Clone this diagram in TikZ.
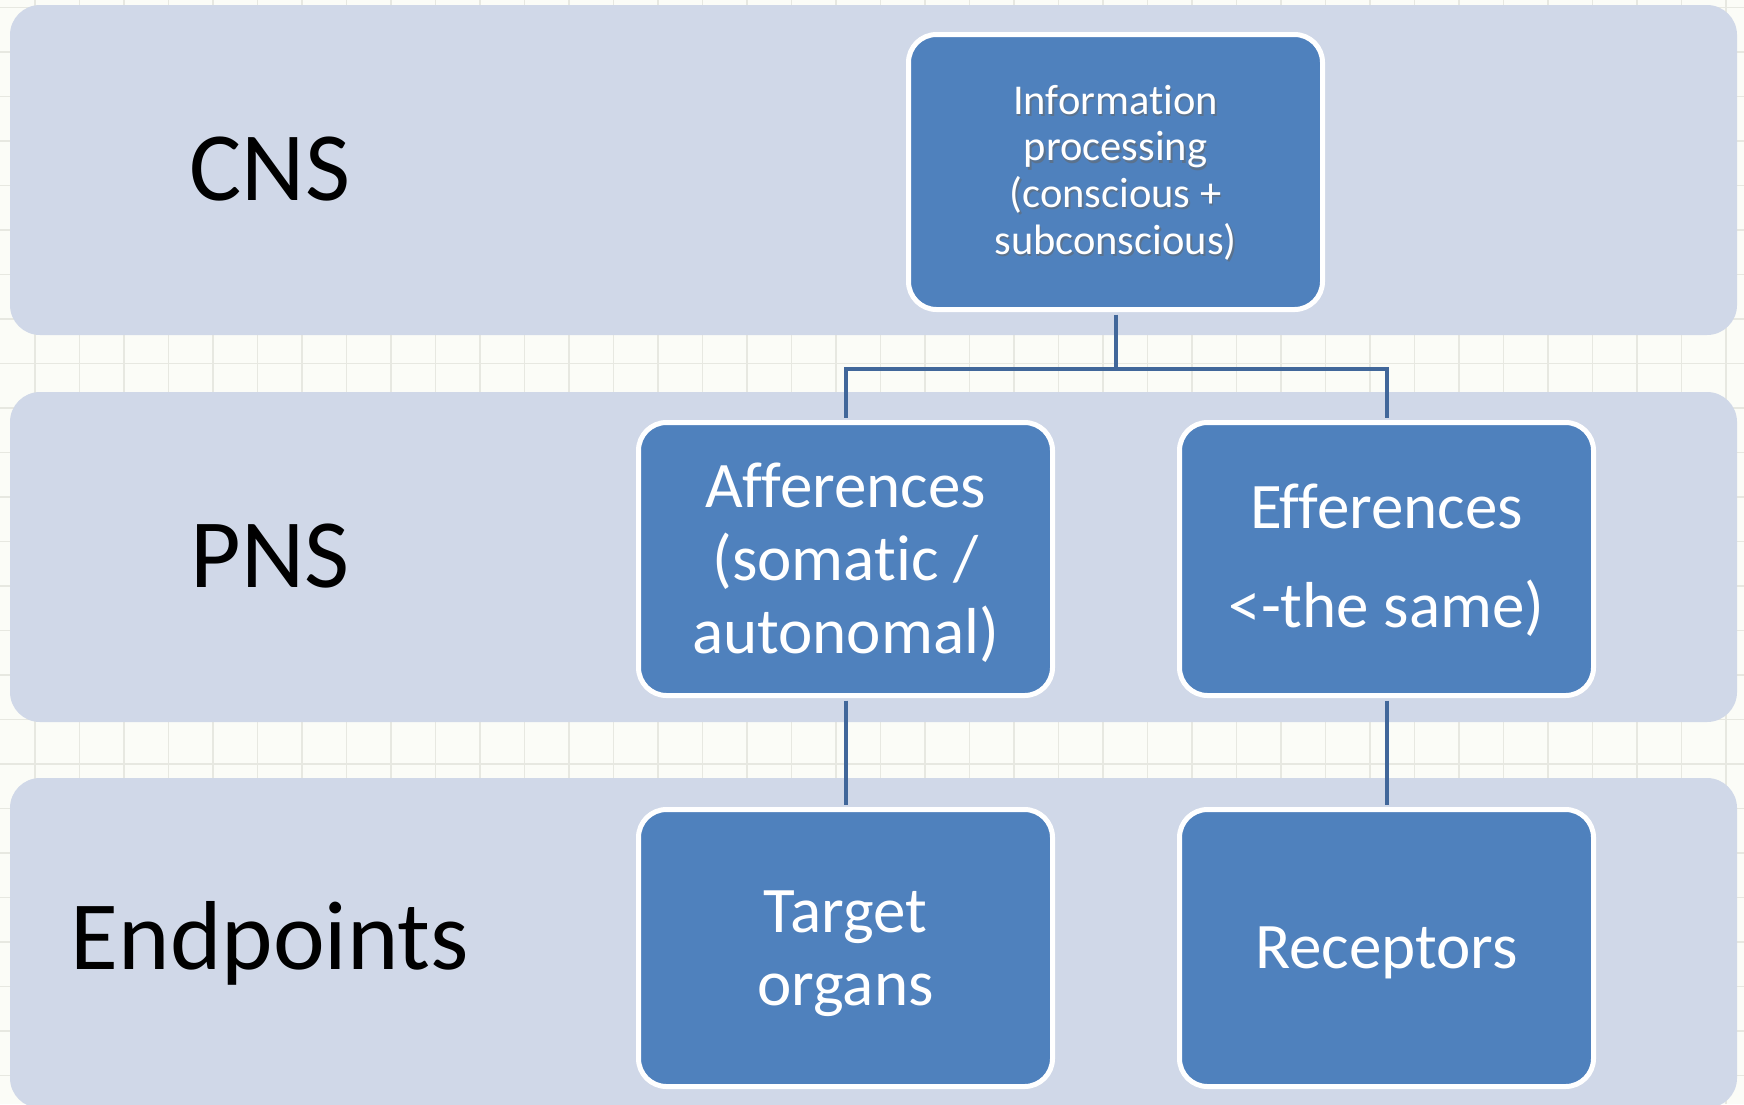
\documentclass[tikz,border=0pt]{standalone}
\usepackage{fontspec}
\setmainfont{Carlito}[Ligatures=NoCommon]
\usetikzlibrary{calc}
\definecolor{bandc}{HTML}{D0D8E8}
\definecolor{boxc}{HTML}{4F81BD}
\definecolor{connc}{HTML}{41679A}
\definecolor{paper}{HTML}{FBFCF7}
\definecolor{gridc}{HTML}{E7E8E1}
\tikzset{
  band/.style={fill=bandc, rounded corners=30pt, inner sep=0pt},
  bandlabel/.style={font=\fontsize{98}{118}\selectfont, text=black, anchor=center, inner sep=0pt},
  blockbox/.style={fill=boxc, draw=white, line width=5pt, rounded corners=28pt,
     inner sep=0pt, minimum width=414pt},
  boxtext/.style={text=white, align=center, inner sep=0pt},
  conn/.style={draw=connc, line width=4pt, shorten <=2.5pt, shorten >=2.5pt},
}
\begin{document}
\begin{tikzpicture}[x=1pt,y=-1pt]
\useasboundingbox (0,0) rectangle (1744,1104);
\fill[paper] (0,0) rectangle (1744,1104);
% grid
\foreach \gx in {35,79.5,...,1744} {\draw[gridc, line width=1.2pt] (\gx,0) -- (\gx,1104);}
\foreach \gy in {7.5,52,...,1104} {\draw[gridc, line width=1.2pt] (0,\gy) -- (1744,\gy);}
% bands
\node[band, minimum width=1727pt, minimum height=330pt] (cnsband) at (873.5,170) {};
\node[band, minimum width=1727pt, minimum height=330pt] (pnsband) at (873.5,557) {};
\node[band, minimum width=1727pt, minimum height=330pt] (endband) at (873.5,943) {};
\node[bandlabel] (cnslabel) at (270,169) {CNS};
\node[bandlabel] (pnslabel) at (270,556) {PNS};
\node[bandlabel] (endlabel) at (270,943) {Endpoints};
% boxes
\node[blockbox, minimum height=275pt] (info) at (1115.5,172) {};
\node[blockbox, minimum height=273pt] (aff) at (845.5,559) {};
\node[blockbox, minimum height=273pt] (eff) at (1386.5,559) {};
\node[blockbox, minimum height=277pt] (target) at (845.5,948) {};
\node[blockbox, minimum height=277pt] (recep) at (1386.5,948) {};
% texts
\node[boxtext, text=black!60, opacity=0.55, font=\fontsize{42.5}{46.6}\selectfont] (infoshadow) at (1117,175)
  {Information\\processing\\(conscious +\\subconscious)};
\node[boxtext, font=\fontsize{42.5}{46.6}\selectfont] (infotext) at (1115.5,172.5)
  {Information\\processing\\(conscious +\\subconscious)};
\node[boxtext, font=\fontsize{65}{73}\selectfont] (afftext) at (845.5,562.5)
  {Afferences\\(somatic /\\autonomal)};
\node[boxtext, font=\fontsize{65}{99}\selectfont] (efftext) at (1386.5,560.5)
  {Efferences\\<-the same)};
\node[boxtext, font=\fontsize{65}{73}\selectfont] (targettext) at (845.5,953.5)
  {Target\\organs};
\node[boxtext, font=\fontsize{65}{73}\selectfont] (receptext) at (1386.5,952.5)
  {Receptors};
% connectors
\coordinate (junction) at ($(info.south)+(0,56.5)$);
\draw[conn, shorten >=0pt] (info.south) -- (junction);
\draw[conn] (aff.north) |- (junction) -| (eff.north);
\draw[conn] (aff.south) -- (target.north);
\draw[conn] (eff.south) -- (recep.north);
\end{tikzpicture}
\end{document}
